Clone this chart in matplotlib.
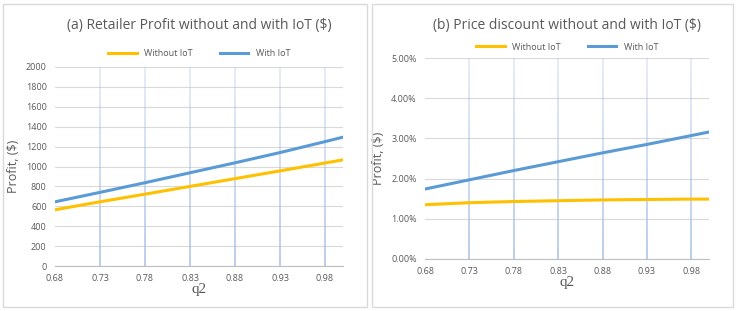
import matplotlib.pyplot as plt
from matplotlib.patches import Rectangle
from matplotlib.ticker import FuncFormatter

# data
q2 = [0.68, 0.73, 0.78, 0.83, 0.88, 0.93, 0.98, 1.00]
profit_without = [565, 645, 722, 800, 878, 956, 1035, 1067]
profit_with = [645, 740, 837, 937, 1037, 1140, 1250, 1295]
disc_without = [1.35, 1.40, 1.43, 1.45, 1.47, 1.48, 1.49, 1.49]
disc_with = [1.74, 1.97, 2.20, 2.42, 2.64, 2.85, 3.07, 3.16]
xticks = [0.68, 0.73, 0.78, 0.83, 0.88, 0.93, 0.98]

orange = '#FFC000'
blue = '#5B9BD5'
txt = '#595959'

plt.rcParams['font.family'] = ['Open Sans', 'DejaVu Sans']

fig = plt.figure(figsize=(7.37, 3.11), dpi=100)
W, H = 737, 311

# panel frames
for x0, x1 in [(3, 367), (372, 733)]:
    fig.patches.append(Rectangle((x0 / W, 4 / H), (x1 - x0) / W, (307 - 4) / H,
                                 transform=fig.transFigure, fill=False,
                                 edgecolor='#d9d9d9', lw=1))


def panel(box, a, b, ylim, yticks, fmt, title, title_y, leg_y):
    l, t, r, bt = box
    ax = fig.add_axes([l / W, 1 - bt / H, (r - l) / W, (bt - t) / H])
    ax.set_xlim(0.68, 1.0)
    ax.set_ylim(*ylim)
    ax.set_yticks(yticks)
    ax.yaxis.set_major_formatter(FuncFormatter(fmt))
    ax.set_xticks(xticks)
    ax.set_xticklabels(['%.2f' % v for v in xticks])
    ax.grid(axis='y', color='#d9d9d9', lw=0.8)
    # light blue verticals, fading towards the top
    n = 20
    for v in xticks[1:]:
        for k in range(n):
            y0 = ylim[0] + (ylim[1] - ylim[0]) * k / n
            y1 = ylim[0] + (ylim[1] - ylim[0]) * (k + 1) / n
            ax.plot([v, v], [y0, y1], color='#a9c0e6', lw=1.3,
                    alpha=0.85 - 0.55 * k / n, zorder=1, solid_capstyle='butt')
    ax.set_axisbelow(True)
    for s in ['top', 'right', 'left']:
        ax.spines[s].set_visible(False)
    ax.spines['bottom'].set_color('#bfbfbf')
    ax.tick_params(length=0, labelsize=6.5, colors=txt, pad=6)
    ax.plot(q2, a, color=orange, lw=2.2, label='Without IoT', zorder=3)
    ax.plot(q2, b, color=blue, lw=2.2, label='With IoT', zorder=3)
    ax.set_ylabel('Profit, ($)', fontsize=9, color=txt, labelpad=4)
    ax.set_xlabel('q2', fontsize=11, color=txt, family='Liberation Serif', labelpad=0)
    fig.text((l + r) / 2 / W, 1 - title_y / H, title, ha='center', va='center',
             fontsize=10, color=txt)
    ax.legend(loc='center', bbox_to_anchor=(0.5, 1 - (leg_y - t) / (bt - t)),
              ncol=2, frameon=False, fontsize=6.5, labelcolor=txt,
              handlelength=3.2, columnspacing=3, borderaxespad=0)
    return ax


panel((55, 67, 343, 266), profit_without, profit_with, (0, 2000),
      range(0, 2001, 200), lambda v, p: '%d' % v,
      '(a) Retailer Profit without and with IoT ($)', 25, 54)
panel((425, 58, 709, 259), disc_without, disc_with, (0, 5),
      [0, 1, 2, 3, 4, 5], lambda v, p: '%.2f%%' % v,
      '(b) Price discount without and with IoT ($)', 25, 47)

fig.savefig('out.png', dpi=100)
